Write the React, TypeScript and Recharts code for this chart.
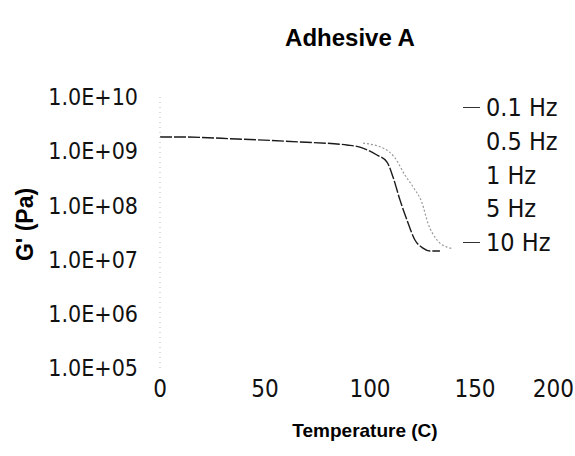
import { Line, LineChart, XAxis, YAxis } from 'recharts'

// temperature (C) and G' (Pa)
const temps01 = [0, 9.5, 36.7, 66.7, 89, 95.2, 103.3, 108.1, 111, 114.3, 117.6, 121.4, 125.2, 128.6, 133.3]
const g01 = [1.83e9, 1.83e9, 1.68e9, 1.48e9, 1.3e9, 1.19e9, 8.5e8, 6.3e8, 3.3e8, 1.25e8, 5.4e7, 2.3e7, 1.63e7, 1.44e7, 1.44e7]

const temps10 = [96.7, 107.1, 111.9, 116.7, 120.5, 124.8, 127.6, 131.9, 136.7, 139]
const g10 = [1.41e9, 1.1e9, 7.5e8, 3.6e8, 2.2e8, 1.1e8, 4.7e7, 2.3e7, 1.7e7, 1.6e7]

const legendNames = ['0.1 Hz', '0.5 Hz', '1 Hz', '5 Hz', '10 Hz']
const legendSwatch = [true, false, false, false, true]

const xTicks = [0, 50, 100, 150, 200]
const yTicks = [1e5, 1e6, 1e7, 1e8, 1e9, 1e10]

const data01 = temps01.map((t, i) => ({ t, g: g01[i] }))
const data10 = temps10.map((t, i) => ({ t, g: g10[i] }))

const font = 'Arial, "Liberation Sans", sans-serif'
const narrow = '"Liberation Sans Narrow", "Arial Narrow", "DejaVu Sans Condensed", sans-serif'

const fmtExp = (v: number) => `1.0E+${String(Math.round(Math.log10(v))).padStart(2, '0')}`

function XTick({ x, y, payload }: any) {
  const last = payload.value === 200
  return (
    <text x={last ? 574 : x} y={y + 21} textAnchor={last ? 'end' : 'middle'} fontSize={24} fontFamily={narrow} fill="#111">
      {payload.value}
    </text>
  )
}

export default function App() {
  return (
    <div style={{ position: 'absolute', left: 0, top: 0, width: 575, height: 456, overflow: 'hidden', background: '#fff' }}>
      <div style={{ position: 'absolute', top: 24, left: 250, width: 200, textAlign: 'center', fontFamily: font, fontWeight: 'bold', fontSize: 24 }}>
        Adhesive A
      </div>
      <div style={{ position: 'absolute', top: 420, left: 265, width: 200, textAlign: 'center', fontFamily: font, fontWeight: 'bold', fontSize: 19 }}>
        Temperature (C)
      </div>
      <div
        style={{
          position: 'absolute', left: -35, top: 211, width: 120, textAlign: 'center', fontFamily: font, fontWeight: 'bold', fontSize: 23,
          transform: 'rotate(-90deg)',
        }}
      >
        G' (Pa)
      </div>
      <div style={{ position: 'absolute', left: 463, top: 91, fontFamily: narrow, fontSize: 25, color: '#111' }}>
        {legendNames.map((name, i) => (
          <div key={name} style={{ height: 33.7, display: 'flex', alignItems: 'center' }}>
            <span style={{ width: 17, height: 1, marginRight: 6, background: legendSwatch[i] ? '#333' : 'transparent' }} />
            {name}
          </div>
        ))}
      </div>
      <LineChart width={600} height={456} margin={{ top: 97, right: 20, bottom: 58, left: 60 }}>
        <XAxis
          type="number"
          dataKey="t"
          domain={[0, 200]}
          ticks={xTicks}
          axisLine={false}
          tickLine={false}
          height={30}
          tick={<XTick />}
          allowDataOverflow
        />
        <YAxis
          type="number"
          dataKey="g"
          scale="log"
          domain={[1e5, 1e10]}
          ticks={yTicks}
          tickFormatter={fmtExp}
          width={100}
          tickLine={false}
          axisLine={{ stroke: '#bbb', strokeDasharray: '1 4' }}
          tick={{ fill: '#111', fontSize: 23, fontFamily: narrow }}
          tickMargin={16}
          allowDataOverflow
        />
        <Line data={data01} dataKey="g" name="0.1 Hz" type="monotone" stroke="#1a1a1a" strokeWidth={1.4} strokeDasharray="12 2" dot={false} isAnimationActive={false} />
        <Line data={data10} dataKey="g" name="10 Hz" type="monotone" stroke="#999" strokeWidth={1.2} strokeDasharray="2 2" dot={false} isAnimationActive={false} />
      </LineChart>
    </div>
  )
}
